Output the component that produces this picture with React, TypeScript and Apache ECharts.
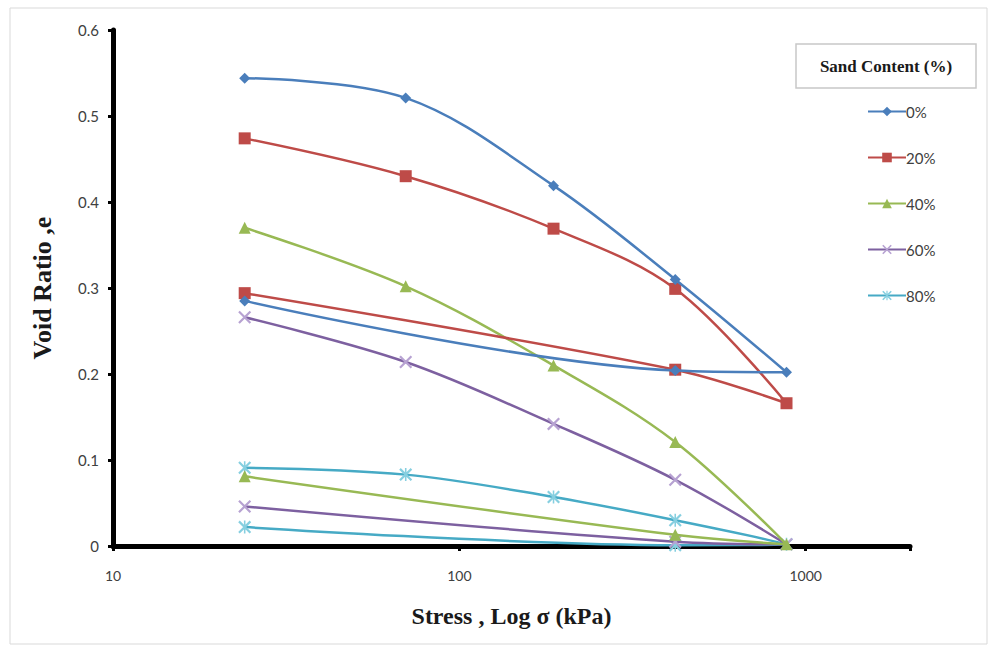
import React, { useEffect, useRef } from "react";
import * as echarts from "echarts";

// Stress (kPa): loading 24 -> 880, then unloading back to 24
const stress = [24, 70, 187, 420, 880, 420, 24];
const sand0 = [0.544, 0.521, 0.419, 0.310, 0.202, 0.204, 0.285];
const sand20 = [0.474, 0.430, 0.369, 0.299, 0.166, 0.205, 0.294];
const sand40 = [0.370, 0.302, 0.210, 0.121, 0.002, 0.013, 0.081];
const sand60 = [0.266, 0.214, 0.142, 0.077, 0.002, 0.005, 0.046];
const sand80 = [0.091, 0.083, 0.057, 0.030, 0.002, 0.001, 0.022];
const seriesNames = ["0%", "20%", "40%", "60%", "80%"];
const yTicks = [0, 0.1, 0.2, 0.3, 0.4, 0.5, 0.6];

const XPATH = "path://M0,1.2 L1.2,0 L10,8.8 L8.8,10 Z M8.8,0 L10,1.2 L1.2,10 L0,8.8 Z";
const STARPATH =
  "path://M0,1.2 L1.2,0 L10,8.8 L8.8,10 Z M8.8,0 L10,1.2 L1.2,10 L0,8.8 Z M4.4,0 L5.6,0 L5.6,10 L4.4,10 Z";

export default function App() {
  const ref = useRef<HTMLDivElement>(null);
  useEffect(() => {
    const chart = echarts.init(ref.current!, undefined, { renderer: "svg" });
    const pair = (vals: number[]) => stress.map((s, i) => [s, vals[i]]);
    const colors = ["#4a7ebb", "#be4b48", "#98b954", "#7d60a0", "#46aac5"];
    const symColors = ["#4a7ebb", "#be4b48", "#98b954", "#b7a2d2", "#86cfe0"];
    const symbols = ["diamond", "rect", "triangle", XPATH, STARPATH];
    const sizes = [11, 12, 12, 13, 13];
    const all = [sand0, sand20, sand40, sand60, sand80];
    chart.setOption({
      animation: false,
      backgroundColor: "#ffffff",
      grid: { left: 113, top: 30, right: 87, bottom: 106 },
      xAxis: {
        type: "log",
        logBase: 10,
        min: 10,
        max: 2000,
        name: "Stress , Log σ (kPa)",
        nameLocation: "middle",
        nameGap: 58,
        nameTextStyle: {
          fontFamily: "Liberation Serif",
          fontWeight: "bold",
          fontSize: 24,
          color: "#1a1a1a",
        },
        axisLine: { lineStyle: { color: "#000", width: 5 } },
        axisTick: { show: true, length: 5, lineStyle: { color: "#000", width: 3 } },
        axisLabel: {
          fontFamily: "Lato",
          fontSize: 14,
          color: "#404040",
          margin: 22,
          formatter: (v: number) => ([10, 100, 1000].includes(Math.round(v)) ? String(Math.round(v)) : ""),
        },
        splitLine: { show: false },
      },
      yAxis: {
        type: "value",
        min: 0,
        max: 0.6,
        interval: 0.1,
        name: "Void Ratio ,e",
        nameLocation: "middle",
        nameGap: 58,
        nameTextStyle: {
          fontFamily: "Liberation Serif",
          fontWeight: "bold",
          fontSize: 26,
          color: "#1a1a1a",
        },
        axisLine: { show: true, lineStyle: { color: "#000", width: 5 } },
        axisTick: { show: true, length: 5, lineStyle: { color: "#000", width: 3 } },
        axisLabel: {
          fontFamily: "Lato",
          fontSize: 15,
          color: "#404040",
          margin: 14,
          formatter: (v: number) => {
            const t = yTicks.find((k) => Math.abs(k - v) < 1e-9);
            return t === undefined ? "" : String(t);
          },
        },
        splitLine: { show: false },
      },
      legend: {
        orient: "vertical",
        left: 862,
        top: 99,
        itemGap: 31,
        itemWidth: 38,
        itemHeight: 12,
        textStyle: { fontFamily: "Lato", fontSize: 15, color: "#404040", padding: [0, 0, 0, -5] },
        data: seriesNames,
      },
      graphic: [
        {
          type: "rect",
          shape: { x: 10, y: 8, width: 977, height: 636 },
          style: { fill: "none", stroke: "#d9d9d9", lineWidth: 1 },
          silent: true,
        },
        {
          type: "rect",
          shape: { x: 796, y: 44, width: 180, height: 44 },
          style: { fill: "#fff", stroke: "#c8c8c8", lineWidth: 1.5 },
        },
        {
          type: "text",
          x: 886,
          y: 66,
          style: {
            text: "Sand Content (%)",
            fontFamily: "Liberation Serif",
            fontWeight: "bold",
            fontSize: 17,
            fill: "#1a1a1a",
            align: "center",
            verticalAlign: "middle",
          },
        },
      ],
      series: all.map((vals, i) => ({
        name: seriesNames[i],
        type: "line",
        data: pair(vals),
        smooth: 0.35,
        symbol: symbols[i],
        symbolSize: sizes[i],
        showSymbol: true,
        lineStyle: { color: colors[i], width: 2.5 },
        itemStyle: { color: symColors[i] },
        z: 10 - i,
      })),
    });
    return () => chart.dispose();
  }, []);
  return (
    <div
      ref={ref}
      style={{ position: "fixed", left: 0, top: 0, width: 997, height: 652 }}
    />
  );
}
